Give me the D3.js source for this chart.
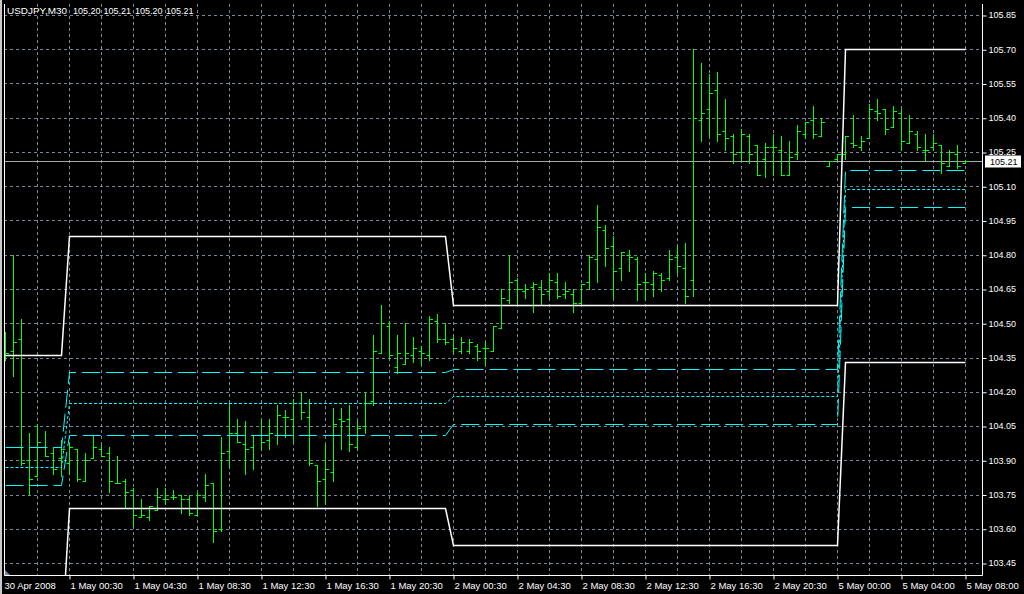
<!DOCTYPE html>
<html><head><meta charset="utf-8">
<script src="https://cdn.jsdelivr.net/npm/d3@7"></script>
<style>html,body{margin:0;padding:0;background:#000;overflow:hidden}text{font-family:"Liberation Sans",Arial,sans-serif}</style>
</head><body><svg id="c" width="1024" height="594"></svg>
<script>
// ---- data (USDJPY M30, bar index 0 = 30 Apr 20:30) ----
const openP  = [104.40,104.38,104.43,103.90,103.83,103.96,103.93,103.91,103.89,103.95,103.81,103.91,103.95,103.93,103.80,103.81,103.77,103.65,103.65,103.68,103.73,103.74,103.75,103.73,103.66,103.74,103.80,103.60,103.94,104.02,103.97,103.96,104.01,103.99,104.01,104.09,104.08,104.15,104.09,103.88,103.82,103.85,104.08,104.08,103.96,104.05,104.16,104.37,104.49,104.31,104.32,104.36,104.38,104.36,104.51,104.43,104.43,104.38,104.38,104.40,104.39,104.38,104.48,104.60,104.69,104.64,104.66,104.66,104.64,104.68,104.63,104.63,104.59,104.68,104.78,104.91,104.84,104.74,104.80,104.78,104.68,104.67,104.71,104.70,104.79,104.74,104.69,105.39,105.44,105.52,105.34,105.32,105.25,105.32,105.28,105.22,105.27,105.26,105.15,105.24,105.33,105.39,105.32,105.19,105.22,105.24,105.29,105.27,105.31,105.43,105.44,105.36,105.42,105.29,105.33,105.26,105.27,105.28,105.19,105.24,105.20];
const highP  = [104.46,104.80,104.52,104.02,104.06,104.03,103.96,103.99,103.97,103.95,103.93,104.01,103.97,103.96,103.92,103.82,103.78,103.73,103.70,103.78,103.78,103.77,103.75,103.75,103.76,103.84,103.80,104.00,104.15,104.08,104.07,104.01,104.08,104.08,104.14,104.12,104.17,104.20,104.17,103.88,103.97,104.13,104.13,104.14,104.07,104.20,104.45,104.58,104.51,104.45,104.50,104.44,104.40,104.53,104.54,104.50,104.44,104.44,104.43,104.41,104.42,104.49,104.65,104.80,104.70,104.67,104.68,104.69,104.72,104.72,104.68,104.65,104.67,104.80,105.02,104.93,104.88,104.81,104.82,104.79,104.72,104.73,104.72,104.82,104.84,104.85,105.70,105.64,105.59,105.60,105.48,105.33,105.35,105.33,105.28,105.29,105.33,105.32,105.30,105.37,105.38,105.45,105.40,105.21,105.24,105.32,105.41,105.32,105.46,105.48,105.44,105.45,105.44,105.41,105.34,105.33,105.33,105.28,105.26,105.28,105.21];
const lowP   = [104.34,104.27,103.88,103.75,103.83,103.92,103.84,103.83,103.84,103.81,103.81,103.91,103.92,103.76,103.80,103.69,103.61,103.65,103.64,103.68,103.71,103.73,103.67,103.66,103.66,103.72,103.54,103.59,103.87,103.98,103.84,103.86,103.95,103.95,103.97,104.00,103.98,104.08,103.88,103.70,103.71,103.81,103.95,103.94,103.95,104.02,104.14,104.37,104.35,104.28,104.32,104.33,104.32,104.34,104.42,104.41,104.37,104.37,104.37,104.34,104.32,104.38,104.48,104.59,104.58,104.61,104.55,104.58,104.61,104.61,104.61,104.55,104.58,104.65,104.68,104.75,104.61,104.69,104.73,104.60,104.60,104.62,104.64,104.69,104.72,104.59,104.62,105.30,105.32,105.30,105.26,105.20,105.21,105.20,105.15,105.14,105.15,105.15,105.15,105.22,105.31,105.31,105.32,105.19,105.21,105.22,105.27,105.26,105.31,105.39,105.33,105.36,105.26,105.29,105.26,105.21,105.26,105.16,105.19,105.18,105.20];
const closeP = [104.37,104.42,103.89,103.82,103.98,103.92,103.86,103.95,103.96,103.82,103.90,103.96,103.92,103.81,103.80,103.76,103.66,103.66,103.70,103.74,103.73,103.74,103.73,103.67,103.75,103.79,103.59,103.93,104.02,103.98,103.95,104.01,103.98,104.02,104.10,104.09,104.15,104.11,103.89,103.81,103.86,104.06,104.07,103.97,104.04,104.15,104.38,104.50,104.36,104.37,104.37,104.39,104.37,104.52,104.43,104.42,104.39,104.42,104.42,104.38,104.39,104.49,104.61,104.68,104.65,104.65,104.67,104.63,104.69,104.62,104.64,104.59,104.67,104.79,104.92,104.83,104.73,104.81,104.79,104.67,104.68,104.72,104.69,104.78,104.75,104.62,105.40,105.42,105.51,105.33,105.31,105.24,105.33,105.24,105.15,105.27,105.27,105.15,105.23,105.34,105.38,105.33,105.38,105.21,105.24,105.32,105.28,105.30,105.44,105.42,105.35,105.43,105.30,105.34,105.27,105.26,105.29,105.20,105.25,105.19,105.21];

// daily levels (previous-day high/low and three reference levels)
const dayStart  = [0, 8, 56, 105];
const dayEnd    = [7, 55, 104, 120];
const prevHigh  = [104.36, 104.88, 104.58, 105.70];
const prevLow   = [103.11, 103.69, 103.53, 104.33];
const levelUp   = [103.96, 104.285, 104.30, 105.17];
const levelMid  = [103.87, 104.15, 104.18, 105.09];
const levelDn   = [103.79, 104.01, 104.06, 105.01];
const lastPrice = 105.21;

const priceTicks = [103.45,103.60,103.75,103.90,104.05,104.20,104.35,104.50,104.65,104.80,104.95,105.10,105.25,105.40,105.55,105.70,105.85];
const timeTickIdx = [0,8,16,24,32,40,48,56,64,72,80,88,96,104,112,120];
const timeTickLabels = ["30 Apr 2008","1 May 00:30","1 May 04:30","1 May 08:30","1 May 12:30","1 May 16:30","1 May 20:30","2 May 00:30","2 May 04:30","2 May 08:30","2 May 12:30","2 May 16:30","2 May 20:30","5 May 00:00","5 May 04:00","5 May 08:00"];
const titleParts = ["USDJPY,M30", "105.20", "105.21", "105.20", "105.21"];

// ---- layout ----
const L = 4, R = 982, T = 4, B = 575;
const svg = d3.select("#c");
svg.append("rect").attr("width",1024).attr("height",594).attr("fill","#000");
svg.append("rect").attr("x",0).attr("y",0).attr("width",2).attr("height",594).attr("fill","#c8c8c8");

const x = d3.scaleLinear().domain([0,120]).range([5,965]);
const y = d3.scaleLinear().domain([103.45,105.85]).range([563,15]);
const px = v => Math.round(x(v)) + 0.5;
const py = v => Math.round(y(v)) + 0.5;

svg.append("defs").append("clipPath").attr("id","clip")
  .append("rect").attr("x",L).attr("y",T).attr("width",R-L).attr("height",B-T);

const grid = svg.append("g").attr("stroke","#778899").attr("stroke-dasharray","3,3").attr("stroke-width",1);
priceTicks.forEach(p => grid.append("line").attr("x1",L).attr("x2",R).attr("y1",py(p)).attr("y2",py(p)));
d3.range(4,121,4).forEach(i => grid.append("line").attr("x1",px(i)).attr("x2",px(i)).attr("y1",T).attr("y2",B));

const plot = svg.append("g").attr("clip-path","url(#clip)");

// current price line
plot.append("line").attr("x1",L).attr("x2",R).attr("y1",py(lastPrice)).attr("y2",py(lastPrice))
  .attr("stroke","#a8a8a8").attr("stroke-width",1);

// OHLC bars
const bars = plot.append("g").attr("stroke","#00ff00").attr("stroke-width",1).attr("fill","none");
openP.forEach((o,i) => {
  const cx = px(i);
  bars.append("path").attr("d",
    `M${cx},${Math.round(y(highP[i]))}V${Math.round(y(lowP[i]))+1}` +
    `M${cx-3},${py(o)}H${cx}` +
    `M${cx},${py(closeP[i])}H${cx+3.5}`);
});

// daily level lines
function levelLine(vals){
  const pts = [];
  vals.forEach((v,k) => { pts.push([dayStart[k], v]); pts.push([dayEnd[k], v]); });
  return d3.line().x(d => px(d[0])).y(d => py(d[1]))(pts);
}
plot.append("path").attr("d",levelLine(levelDn)).attr("fill","none").attr("stroke","#00ffff").attr("stroke-width",1).attr("stroke-dasharray","18,6");
plot.append("path").attr("d",levelLine(levelMid)).attr("fill","none").attr("stroke","#00ffff").attr("stroke-width",1).attr("stroke-dasharray","3,2");
plot.append("path").attr("d",levelLine(levelUp)).attr("fill","none").attr("stroke","#00ffff").attr("stroke-width",1).attr("stroke-dasharray","18,6");
plot.append("path").attr("d",levelLine(prevHigh)).attr("fill","none").attr("stroke","#ffffff").attr("stroke-width",1.5);
plot.append("path").attr("d",levelLine(prevLow)).attr("fill","none").attr("stroke","#ffffff").attr("stroke-width",1.5);

// frame
svg.append("path").attr("d",`M${L+0.5},${T}V${B+0.5}H${R+0.5}V${T}`).attr("fill","none").attr("stroke","#fff").attr("stroke-width",1);
svg.append("path").attr("d",`M${L+1},${B-5}L${L+1},${B}L${L+6},${B}Z`).attr("fill","#778899");

// price axis
const yAxis = svg.append("g").attr("transform",`translate(${R+0.5},0)`)
  .call(d3.axisRight(y).tickValues(priceTicks).tickFormat(d3.format(".2f")).tickSize(4).tickPadding(2));
yAxis.select(".domain").remove();
yAxis.selectAll("line").attr("stroke","#fff").attr("transform","translate(0,0.5)");
yAxis.selectAll("text").attr("fill","#fff").attr("font-size",9).attr("font-family","Liberation Sans, Arial, sans-serif");

// current price label
const lab = svg.append("g").attr("transform",`translate(${R+3},${py(lastPrice)})`);
lab.append("rect").attr("x",0).attr("y",-6).attr("width",36).attr("height",12).attr("fill","#fff");
lab.append("text").attr("x",5).attr("y",3.5).attr("fill","#000").attr("font-size",9).text(d3.format(".2f")(lastPrice));

// time axis
const xAxis = svg.append("g").attr("transform",`translate(0,${B+0.5})`)
  .call(d3.axisBottom(x).tickValues(timeTickIdx).tickFormat((d,i) => timeTickLabels[i]).tickSize(4).tickPadding(3));
xAxis.select(".domain").remove();
xAxis.selectAll("line").attr("stroke","#fff").attr("transform","translate(0.5,0)");
xAxis.selectAll("text").attr("fill","#fff").attr("font-size",9.5).attr("text-anchor","start")
  .attr("font-family","Liberation Sans, Arial, sans-serif")
  .attr("dx", (d,i) => i === 0 ? -1 : 1);
xAxis.selectAll(".tick").filter((d,i) => i === 0).select("line").remove();

// title
const titleX = [7, 73, 103.5, 135, 166];
titleParts.forEach((t,i) => {
  const tx = svg.append("text").attr("x",titleX[i]).attr("y",13.5).attr("fill","#fff").attr("font-size",9).text(t);
  if (i === 0) tx.attr("textLength",60).attr("lengthAdjust","spacingAndGlyphs");
});
</script></body></html>
